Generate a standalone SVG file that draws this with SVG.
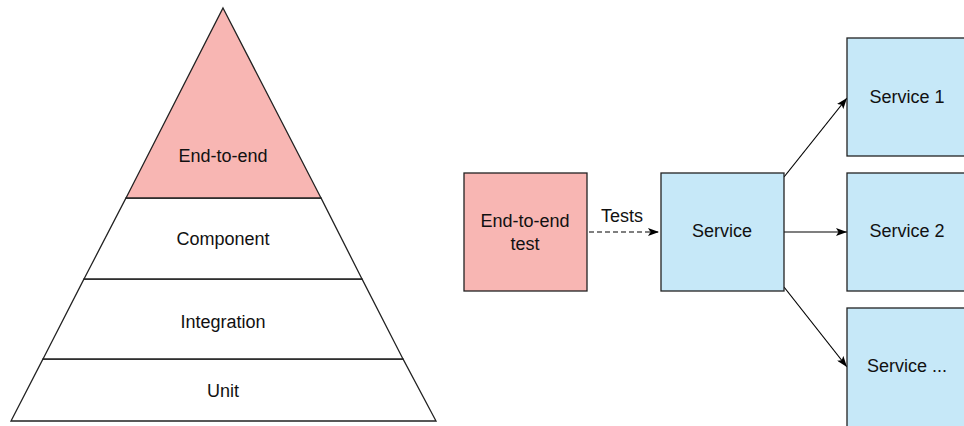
<svg xmlns="http://www.w3.org/2000/svg" width="964" height="426" viewBox="0 0 964 426">
<defs>
<marker id="arr" markerWidth="11" markerHeight="8" refX="11" refY="4" orient="auto" markerUnits="userSpaceOnUse">
<path d="M0,0 L11,4 L0,8 L2.5,4 Z" fill="#000"/>
</marker>
<style>
text{font-family:"Liberation Sans",Arial,sans-serif;font-size:18px;fill:#111;text-anchor:middle}
.pink{fill:#f8b6b3;stroke:#222;stroke-width:1.3}
.blue{fill:#c6e8f8;stroke:#222;stroke-width:1.3}
.white{fill:#fff;stroke:#222;stroke-width:1.3}
.conn{stroke:#000;stroke-width:1.2;fill:none}
</style>
</defs>
<rect width="964" height="426" fill="#fff"/>
<g id="pyramid">
<g id="layer-unit"><polygon class="white" points="43,359 403,359 436,421 11,421"/><text x="223" y="397">Unit</text></g>
<g id="layer-integration"><polygon class="white" points="84,279 362,279 403,359 43,359"/><text x="223" y="328">Integration</text></g>
<g id="layer-component"><polygon class="white" points="126,198 321,198 362,279 84,279"/><text x="223" y="245">Component</text></g>
<g id="layer-e2e"><polygon class="pink" points="223,8 321,198 126,198"/><text x="223" y="162">End-to-end</text></g>
</g>
<g id="connectors">
<line class="conn" x1="589" y1="232" x2="659" y2="232" stroke-dasharray="5,3" marker-end="url(#arr)"/>
<line class="conn" x1="784" y1="177" x2="847" y2="98" marker-end="url(#arr)"/>
<line class="conn" x1="784" y1="232" x2="847" y2="232" marker-end="url(#arr)"/>
<line class="conn" x1="784" y1="287" x2="847" y2="367" marker-end="url(#arr)"/>
<text x="622" y="222">Tests</text>
</g>
<g id="e2e-test"><rect class="pink" x="464" y="173" width="123" height="118"/><text x="525" y="227">End-to-end</text><text x="525" y="250">test</text></g>
<g id="service"><rect class="blue" x="661" y="173" width="123" height="118"/><text x="722" y="237">Service</text></g>
<g id="service1"><rect class="blue" x="847" y="38" width="123" height="118"/><text x="907" y="103">Service 1</text></g>
<g id="service2"><rect class="blue" x="847" y="173" width="123" height="118"/><text x="907" y="237">Service 2</text></g>
<g id="service3"><rect class="blue" x="847" y="308" width="123" height="125"/><text x="907" y="372">Service ...</text></g>
</svg>
